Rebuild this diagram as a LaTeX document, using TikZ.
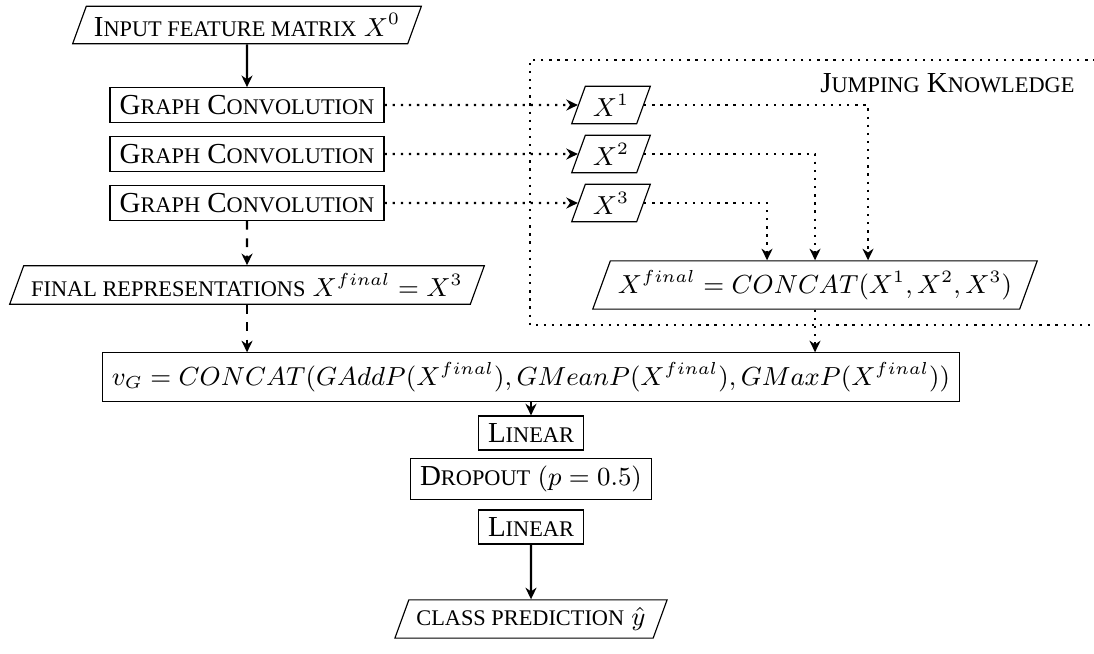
\documentclass[tikz,border=0pt]{standalone}
\usepackage{fontspec}
\setmainfont{Liberation Serif}
\usetikzlibrary{shapes.geometric,arrows.meta,calc}
\newcommand\scx[1]{{\fontsize{7.7}{9}\selectfont\MakeUppercase{#1}}}
\newcommand\mth[1]{{\fontsize{8.85}{11}\selectfont$#1$}}
\begin{document}
\begin{tikzpicture}[x=0.3448pt,y=-0.3448pt,
  >={Stealth[length=4pt,width=3.8pt,inset=1.3pt]},
  box/.style={draw,rectangle,inner xsep=3.3pt,inner ysep=2.6pt},
  para/.style={draw,trapezium,trapezium left angle=70,trapezium right angle=110,inner xsep=2.6pt,inner ysep=2.6pt},
  conn/.style={->,thick},
  dconn/.style={->,thick,dashed},
  pconn/.style={->,thick,dotted}]
\clip (0,0) rectangle (1094,653);
\useasboundingbox (0,0) rectangle (1094,653);
% jumping knowledge frame
\draw[thick,dotted] (1120,60) -- (530,60) -- (530,325) -- (1120,325);
\node[anchor=east,inner sep=0pt] (jk) at (1075,83) {J\scx{umping} K\scx{nowledge}};
% main column
\node[para] (in) at (247,25) {I\scx{nput feature matrix} \mth{X^0}};
\node[box] (gc1) at (247,105) {G\scx{raph} C\scx{onvolution}};
\node[box] (gc2) at (247,154) {G\scx{raph} C\scx{onvolution}};
\node[box] (gc3) at (247,203) {G\scx{raph} C\scx{onvolution}};
\node[para] (fin) at (247,285) {\scx{final representations} \mth{X^{final}=X^3}};
\node[box,inner ysep=3.2pt] (vg) at (531,377) {\mth{v_G = CONCAT(GAddP(X^{final}),GMeanP(X^{final}),GMaxP(X^{final}))}};
\node[box] (l1) at (531,433) {L\scx{inear}};
\node[box] (do) at (531,479) {D\scx{ropout} \mth{(p=0.5)}};
\node[box] (l2) at (531,527) {L\scx{inear}};
\node[para] (cls) at (531,619) {\scx{class prediction} \mth{\hat{y}}};
% jumping knowledge nodes
\node[para] (x1) at (611,105) {\mth{X^1}};
\node[para] (x2) at (611,154) {\mth{X^2}};
\node[para] (x3) at (611,203) {\mth{X^3}};
\node[para,inner ysep=3.2pt] (xf) at (815,285) {\mth{X^{final} = CONCAT(X^1,X^2,X^3)}};
% connectors
\draw[conn] (in.south) -- (gc1.north);
\draw[dconn] (gc3.south) -- (fin.north);
\draw[dconn] (fin.south) -- (vg.north -| fin.south);
\draw[pconn] (gc1.east) -- (x1.west);
\draw[pconn] (gc2.east) -- (x2.west);
\draw[pconn] (gc3.east) -- (x3.west);
\draw[pconn] (x1.east) -| ($(xf.north)+(53,0)$);
\draw[pconn] (x2.east) -| (xf.north);
\draw[pconn] (x3.east) -| ($(xf.north)+(-48,0)$);
\draw[pconn] (xf.south) -- (xf.south |- vg.north);
\draw[conn] (vg.south -| l1.north) -- (l1.north);
\draw[conn] (l2.south) -- (cls.north);
\end{tikzpicture}
\end{document}
